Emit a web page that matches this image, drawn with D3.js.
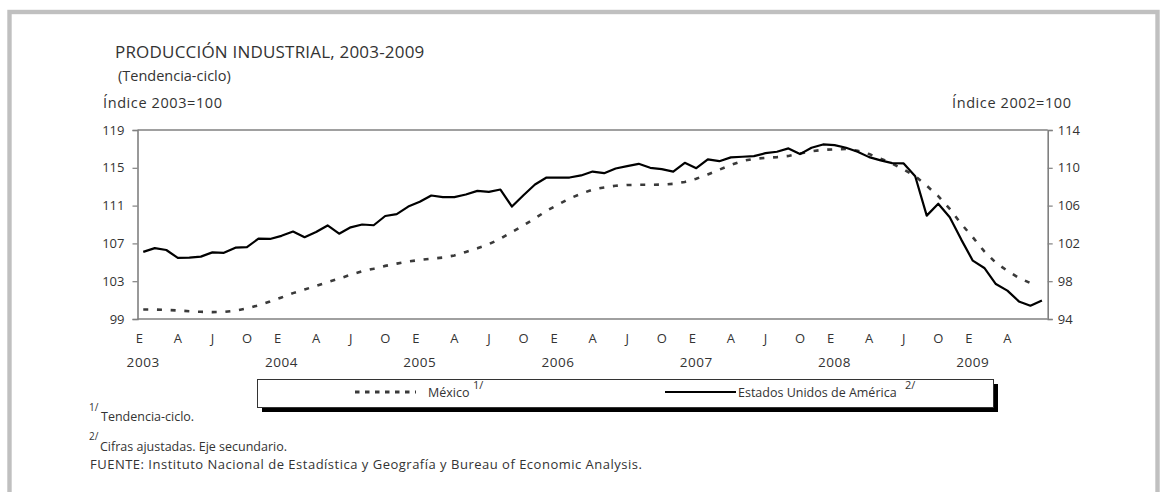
<!DOCTYPE html>
<html>
<head>
<meta charset="utf-8">
<script src="https://cdn.jsdelivr.net/npm/d3@7/dist/d3.min.js"></script>
<style>
  html, body { margin: 0; padding: 0; background: #fff; }
  svg { display: block; font-family: "Open Sans", "Noto Sans", sans-serif; }
</style>
</head>
<body>
<svg id="chart" width="1166" height="492"></svg>
<script>
// ---------- data ----------
const years = ["2003", "2004", "2005", "2006", "2007", "2008", "2009"];
const monthLetters = ["E", "F", "M", "A", "M", "J", "J", "A", "S", "O", "N", "D"];
const tickMonthIdx = [0, 3, 6, 9];           // E, A, J, O
const nMonths = 79;                            // Ene 2003 .. Jul 2009
const lastLabelled = 75;                       // last month label: Abr 2009
const leftTicks = [99, 103, 107, 111, 115, 119];
const rightTicks = [94, 98, 102, 106, 110, 114];

// México (Índice 2003=100, tendencia-ciclo), Ene 2003 .. Jun 2009
const mexico = [
  100.0, 100.0, 99.96, 99.9, 99.82, 99.76, 99.73, 99.75, 99.88, 100.12, 100.45, 100.85,
  101.28, 101.74, 102.12, 102.5, 102.9, 103.27, 103.68, 104.05, 104.32, 104.62, 104.86, 105.08,
  105.25, 105.38, 105.5, 105.72, 106.1, 106.48, 106.92, 107.5, 108.2, 108.9, 109.65, 110.45,
  111.1, 111.75, 112.25, 112.7, 112.92, 113.1, 113.18, 113.2, 113.2, 113.22, 113.3, 113.5,
  113.85, 114.3, 114.8, 115.3, 115.72, 115.95, 116.05, 116.13, 116.25, 116.5, 116.75, 116.9,
  116.95, 117.0, 116.8, 116.45, 115.97, 115.45, 114.83, 114.12, 113.1, 112.0, 110.65, 109.06,
  107.65, 106.15, 104.95, 104.1, 103.35, 102.8
];

// Estados Unidos (Índice 2002=100, eje secundario), Ene 2003 .. Jul 2009
const usa = [
  101.1, 101.5, 101.3, 100.46, 100.5, 100.6, 101.05, 101.0, 101.55, 101.6, 102.5, 102.47,
  102.8, 103.25, 102.65, 103.2, 103.9, 103.03, 103.7, 104.0, 103.92, 104.9, 105.1, 105.9,
  106.4, 107.07, 106.9, 106.9, 107.17, 107.56, 107.45, 107.7, 105.9, 107.1, 108.23, 108.97,
  108.97, 108.97, 109.19, 109.6, 109.43, 109.93, 110.17, 110.42, 110.0, 109.86, 109.6, 110.53,
  109.96, 110.9, 110.7, 111.1, 111.17, 111.24, 111.55, 111.7, 112.05, 111.45, 112.12, 112.47,
  112.4, 112.12, 111.7, 111.13, 110.78, 110.5, 110.46, 109.1, 104.94, 106.2, 104.77, 102.4,
  100.17, 99.4, 97.7, 97.0, 95.86, 95.4, 95.96
];

// ---------- layout ----------
const svg = d3.select("#chart");
const L = 137.5, R = 1047.7, T = 130, B = 319;
const ink = "#333";
const axisGray = "#808080";

// outer frame
svg.append("rect")
  .attr("x", 9.5).attr("y", 12).attr("width", 1148).attr("height", 500)
  .attr("fill", "none").attr("stroke", "#c0c0c0").attr("stroke-width", 4.4);

// scales
const x = d3.scalePoint().domain(d3.range(nMonths)).range([L, R]).padding(0.5);
const yL = d3.scaleLinear().domain([99, 119]).range([B, T]);
const yR = d3.scaleLinear().domain([94, 114]).range([B, T]);

// plot frame (top / bottom)
svg.append("line").attr("x1", L).attr("x2", R).attr("y1", T).attr("y2", T)
  .attr("stroke", axisGray).attr("stroke-width", 1.6);
svg.append("line").attr("x1", L).attr("x2", R).attr("y1", B).attr("y2", B)
  .attr("stroke", axisGray).attr("stroke-width", 1.6);

// left axis
const gL = svg.append("g").attr("transform", `translate(${L},0)`)
  .call(d3.axisLeft(yL).tickValues(leftTicks).tickSize(5).tickPadding(8).tickFormat(d3.format("d")));
// right axis
const gR = svg.append("g").attr("transform", `translate(${R},0)`)
  .call(d3.axisRight(yR).tickValues(rightTicks).tickSize(5).tickPadding(5).tickFormat(d3.format("d")));
[gL, gR].forEach(g => {
  g.select(".domain").attr("stroke", axisGray).attr("stroke-width", 1.6);
  g.selectAll(".tick line").attr("stroke", axisGray).attr("stroke-width", 1.2);
  g.selectAll(".tick text").attr("fill", ink).style("font-size", "13px")
    .style("font-family", "'Open Sans', sans-serif");
});

// x labels (months & years)
const monthTicks = d3.range(nMonths).filter(i => tickMonthIdx.includes(i % 12) && i <= lastLabelled);
svg.append("g").selectAll("text").data(monthTicks).join("text")
  .attr("x", i => x(i) + (i % 12 === 0 ? -4 : 0))
  .attr("y", 343)
  .attr("text-anchor", "middle")
  .attr("fill", ink).style("font-size", "13px")
  .text(i => monthLetters[i % 12]);
svg.append("g").selectAll("text").data(years).join("text")
  .attr("x", (d, k) => x(k * 12))
  .attr("y", 367)
  .attr("text-anchor", "middle")
  .attr("fill", ink).style("font-size", "13.5px").style("letter-spacing", "0.6px")
  .text(d => d);

// lines
const lineMx = d3.line().x((d, i) => x(i)).y(d => yL(d));
const lineUs = d3.line().x((d, i) => x(i)).y(d => yR(d));
svg.append("path").datum(mexico).attr("d", lineMx)
  .attr("fill", "none").attr("stroke", "#3a3a3a").attr("stroke-width", 2.6)
  .attr("stroke-dasharray", "5,8.7");
svg.append("path").datum(usa).attr("d", lineUs)
  .attr("fill", "none").attr("stroke", "#000").attr("stroke-width", 2.2)
  .attr("stroke-linejoin", "round");

// titles
svg.append("text").attr("x", 115).attr("y", 58).attr("fill", ink)
  .style("font-size", "17px").style("letter-spacing", "0.2px")
  .text("PRODUCCIÓN INDUSTRIAL, 2003-2009");
svg.append("text").attr("x", 118).attr("y", 81).attr("fill", ink)
  .style("font-size", "14.5px").text("(Tendencia-ciclo)");
svg.append("text").attr("x", 103).attr("y", 108).attr("fill", ink)
  .style("font-size", "14.5px").style("letter-spacing", "0.6px").text("Índice 2003=100");
svg.append("text").attr("x", 952).attr("y", 108).attr("fill", ink)
  .style("font-size", "14.5px").style("letter-spacing", "0.6px").text("Índice 2002=100");

// legend
svg.append("rect").attr("x", 262).attr("y", 384).attr("width", 736).attr("height", 28).attr("fill", "#000");
svg.append("rect").attr("x", 257.5).attr("y", 379.5).attr("width", 736).attr("height", 28)
  .attr("fill", "#fff").attr("stroke", ink).attr("stroke-width", 1);
svg.append("line").attr("x1", 355).attr("x2", 416).attr("y1", 392).attr("y2", 392)
  .attr("stroke", "#3a3a3a").attr("stroke-width", 2.8).attr("stroke-dasharray", "4.5,5.5");
svg.append("text").attr("x", 428).attr("y", 397).attr("fill", ink).style("font-size", "12.5px").text("México");
svg.append("text").attr("x", 473).attr("y", 389).attr("fill", ink).style("font-size", "11px").text("1/");
svg.append("line").attr("x1", 665).attr("x2", 736).attr("y1", 392).attr("y2", 392)
  .attr("stroke", "#000").attr("stroke-width", 2.2);
svg.append("text").attr("x", 738).attr("y", 397).attr("fill", ink).style("font-size", "12.5px").text("Estados Unidos de América");
svg.append("text").attr("x", 905).attr("y", 389).attr("fill", ink).style("font-size", "11px").text("2/");

// footnotes
svg.append("text").attr("x", 89).attr("y", 411).attr("fill", ink).style("font-size", "10px").text("1/");
svg.append("text").attr("x", 101).attr("y", 421).attr("fill", ink).style("font-size", "12.5px").text("Tendencia-ciclo.");
svg.append("text").attr("x", 89).attr("y", 440).attr("fill", ink).style("font-size", "10px").text("2/");
svg.append("text").attr("x", 100).attr("y", 451).attr("fill", ink).style("font-size", "12.5px").text("Cifras ajustadas. Eje secundario.");
svg.append("text").attr("x", 90).attr("y", 469).attr("fill", ink).style("font-size", "13px").style("letter-spacing", "0.5px")
  .text("FUENTE: Instituto Nacional de Estadística y Geografía y Bureau of Economic Analysis.");
</script>
</body>
</html>
